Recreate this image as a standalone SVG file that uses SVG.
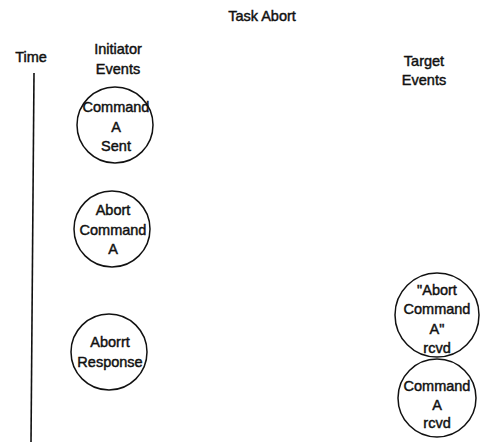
<svg xmlns="http://www.w3.org/2000/svg" width="484" height="442" viewBox="0 0 484 442">
<style>
text{font-family:"Liberation Sans",Arial,sans-serif;font-size:14.5px;fill:#111;text-anchor:middle;stroke:#111;stroke-width:0.45}
.node circle{fill:none;stroke:#111;stroke-width:1.5}
.axis{stroke:#111;stroke-width:1.6;fill:none}
</style>
<rect width="484" height="442" fill="#fff"/>
<g id="title"><text x="262" y="21">Task Abort</text></g>
<g id="labels">
<text x="31" y="62">Time</text>
<text x="118" y="54">Initiator</text>
<text x="118" y="74">Events</text>
<text x="424" y="66">Target</text>
<text x="424" y="85">Events</text>
</g>
<g id="connectors"><path class="axis" d="M34 73 L31 442"/></g>
<g id="cmdSent" class="node"><circle cx="115" cy="125" r="38"/>
<text x="116" y="112">Command</text><text x="116" y="132">A</text><text x="116" y="151">Sent</text></g>
<g id="abortCmd" class="node"><circle cx="112" cy="229" r="38"/>
<text x="113" y="215">Abort</text><text x="113" y="235">Command</text><text x="113" y="254">A</text></g>
<g id="abortResp" class="node"><circle cx="109" cy="352" r="38"/>
<text x="110" y="347">Aborrt</text><text x="110" y="367">Response</text></g>
<g id="abortRcvd" class="node"><circle cx="437" cy="315" r="42"/>
<text x="437" y="295">"Abort</text><text x="437" y="314">Command</text><text x="437" y="334">A"</text><text x="437" y="353">rcvd</text></g>
<g id="cmdRcvd" class="node"><circle cx="437" cy="398" r="39"/>
<text x="437" y="391">Command</text><text x="437" y="410">A</text><text x="437" y="428">rcvd</text></g>
</svg>
